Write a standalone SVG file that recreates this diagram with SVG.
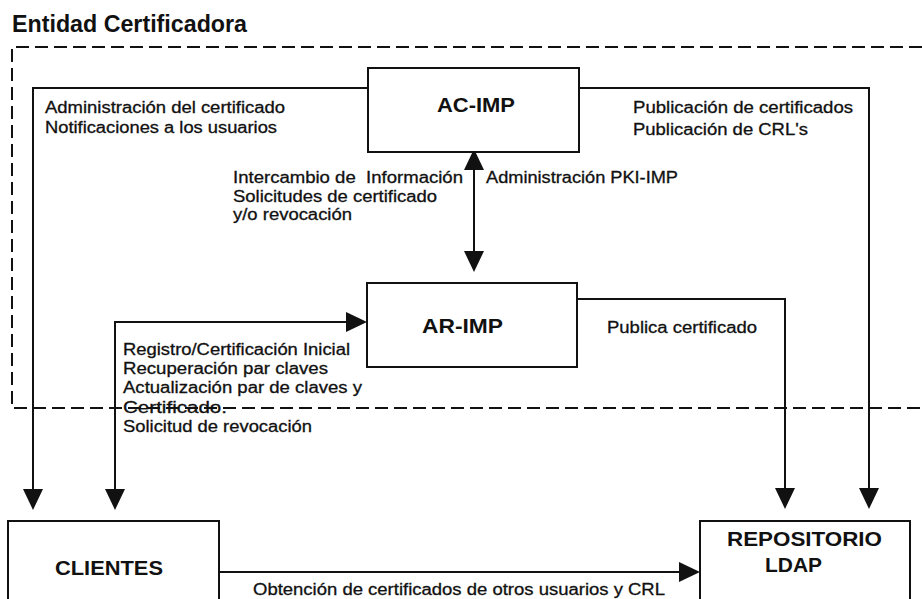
<svg xmlns="http://www.w3.org/2000/svg" width="922" height="599" viewBox="0 0 922 599">
  <style>
    .box{fill:#fff;stroke:#111;stroke-width:2}
    .frame{fill:none;stroke:#111;stroke-width:2;stroke-dasharray:13 6}
    .wire{fill:none;stroke:#111;stroke-width:2}
    .lbl{font-family:"Liberation Sans",Arial,sans-serif;font-size:16px;fill:#111;stroke:#111;stroke-width:0.3}
    .name{font-family:"Liberation Sans",Arial,sans-serif;font-size:21px;font-weight:bold;fill:#111}
    .title{font-family:"Liberation Sans",Arial,sans-serif;font-size:23px;font-weight:bold;fill:#111}
  </style>
  <defs>
    <marker id="head" markerUnits="userSpaceOnUse" markerWidth="21" markerHeight="21" viewBox="0 0 21 21" refX="15" refY="10.5" orient="auto-start-reverse">
      <path d="M0,0.5 L21,10.5 L0,20.5 z" fill="#111"/>
    </marker>
  </defs>

  <rect width="922" height="599" fill="#fff"/>

  <!-- certification authority boundary -->
  <g id="entidad">
    <text class="title" x="12" y="32" textLength="235" lengthAdjust="spacingAndGlyphs">Entidad Certificadora</text>
    <path class="frame" d="M922,47 H12 V408 H922"/>
  </g>

  <!-- connectors -->
  <g id="connectors">
    <path class="wire" d="M368,88 H33 V504" marker-end="url(#head)"/>
    <path class="wire" d="M579,88 H869 V503" marker-end="url(#head)"/>
    <path class="wire" d="M474,155 V266" marker-start="url(#head)" marker-end="url(#head)"/>
    <path class="wire" d="M115,504 V322 H361" marker-start="url(#head)" marker-end="url(#head)"/>
    <path class="wire" d="M577,299 H785 V503" marker-end="url(#head)"/>
    <path class="wire" d="M219,572 H694" marker-end="url(#head)"/>

    <text class="lbl" x="45" y="112.5" textLength="240" lengthAdjust="spacingAndGlyphs">Administración del certificado</text>
    <text class="lbl" x="45" y="133" textLength="232" lengthAdjust="spacingAndGlyphs">Notificaciones a los usuarios</text>
    <text class="lbl" x="633" y="113" textLength="220" lengthAdjust="spacingAndGlyphs">Publicación de certificados</text>
    <text class="lbl" x="633" y="134.5" textLength="175" lengthAdjust="spacingAndGlyphs">Publicación de CRL's</text>
    <text class="lbl" x="233" y="183" textLength="230" lengthAdjust="spacingAndGlyphs" xml:space="preserve">Intercambio de  Información</text>
    <text class="lbl" x="233" y="201.5" textLength="204" lengthAdjust="spacingAndGlyphs">Solicitudes de certificado</text>
    <text class="lbl" x="233" y="220" textLength="119" lengthAdjust="spacingAndGlyphs">y/o revocación</text>
    <text class="lbl" x="486" y="183.3" textLength="192" lengthAdjust="spacingAndGlyphs">Administración PKI-IMP</text>
    <text class="lbl" x="123" y="355" textLength="227" lengthAdjust="spacingAndGlyphs">Registro/Certificación Inicial</text>
    <text class="lbl" x="123" y="374" textLength="205" lengthAdjust="spacingAndGlyphs">Recuperación par claves</text>
    <text class="lbl" x="123" y="393" textLength="239" lengthAdjust="spacingAndGlyphs">Actualización par de claves y</text>
    <text class="lbl" x="123" y="413" textLength="104" lengthAdjust="spacingAndGlyphs">Certificado.</text>
    <text class="lbl" x="123" y="431.5" textLength="189" lengthAdjust="spacingAndGlyphs">Solicitud de revocación</text>
    <text class="lbl" x="607" y="333" textLength="150" lengthAdjust="spacingAndGlyphs">Publica certificado</text>
    <text class="lbl" x="253" y="595" textLength="412" lengthAdjust="spacingAndGlyphs">Obtención de certificados de otros usuarios y CRL</text>
  </g>

  <!-- nodes -->
  <g id="ac-imp">
    <rect class="box" x="368" y="68" width="211" height="84"/>
    <text class="name" x="437" y="112" textLength="78" lengthAdjust="spacingAndGlyphs">AC-IMP</text>
  </g>
  <g id="ar-imp">
    <rect class="box" x="367" y="283" width="210" height="84"/>
    <text class="name" x="422" y="333" textLength="81" lengthAdjust="spacingAndGlyphs">AR-IMP</text>
  </g>
  <g id="clientes">
    <rect class="box" x="8" y="521" width="211" height="100"/>
    <text class="name" x="55" y="575" textLength="108" lengthAdjust="spacingAndGlyphs">CLIENTES</text>
  </g>
  <g id="repositorio">
    <rect class="box" x="700" y="521" width="210" height="100"/>
    <text class="name" x="727" y="546" textLength="155" lengthAdjust="spacingAndGlyphs">REPOSITORIO</text>
    <text class="name" x="765" y="571.5" textLength="57" lengthAdjust="spacingAndGlyphs">LDAP</text>
  </g>
</svg>
